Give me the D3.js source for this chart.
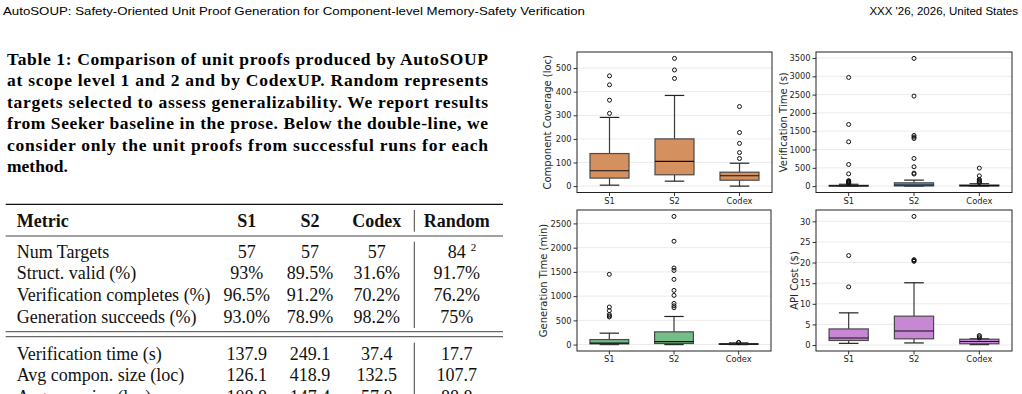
<!DOCTYPE html>
<html>
<head>
<meta charset="utf-8">
<script src="https://cdn.jsdelivr.net/npm/d3@7"></script>
<style>
  html, body { margin: 0; padding: 0; background: #fff; overflow: hidden; }
  svg { display: block; }
</style>
</head>
<body>
<svg id="page" width="1022" height="394"></svg>
<script>
// ---- data ----
const groups = ['S1', 'S2', 'Codex']

// box stats per group: [whisker low, q1, median, q3, whisker high]
const coverageBoxes = [[4, 34, 65, 138, 291], [21, 48, 105, 200, 384], [0, 25, 44, 59, 97]]
const coverageOutliers = [[308, 364, 429, 467], [456, 492, 541], [117, 142, 181, 227, 337]]

const verifTimeBoxes = [[0, 3, 8, 20, 50], [0, 5, 30, 90, 164], [0, 5, 12, 30, 65]]
const verifTimeOutliers = [
    [70, 85, 100, 110, 120, 135, 150, 336, 591, 1211, 1685, 2970],
    [330, 355, 528, 755, 1302, 1340, 1384, 2460, 3490],
    [95, 110, 130, 160, 185, 282, 492]
]

const genTimeBoxes = [[0, 14, 30, 104, 236], [0, 22, 62, 263, 580], [0, 4, 10, 20, 35]]
const genTimeOutliers = [
    [570, 590, 620, 700, 775, 1450],
    [760, 800, 849, 1015, 1118, 1346, 1530, 1580, 2133, 2645],
    [40, 45]
]

const apiCostBoxes = [[0.4, 1.1, 1.7, 3.9, 7.8], [0.5, 1.5, 3.4, 7.0, 15.1], [0.1, 0.3, 0.85, 1.4, 1.5]]
const apiCostOutliers = [[14.1, 21.7], [20.3, 20.5, 20.7, 31.2], [1.7, 2.0, 2.3]]

const coverageTicks = [0, 100, 200, 300, 400, 500]
const verifTimeTicks = [0, 500, 1000, 1500, 2000, 2500, 3000, 3500]
const genTimeTicks = [0, 500, 1000, 1500, 2000, 2500]
const apiCostTicks = [0, 5, 10, 15, 20, 25, 30]

// page text
const headerLeft = 'AutoSOUP: Safety-Oriented Unit Proof Generation for Component-level Memory-Safety Verification'
const headerRight = "XXX '26, 2026, United States"
const captionLines = [
    'Table 1: Comparison of unit proofs produced by AutoSOUP',
    'at scope level 1 and 2 and by CodexUP. Random represents',
    'targets selected to assess generalizability. We report results',
    'from Seeker baseline in the prose. Below the double-line, we',
    'consider only the unit proofs from successful runs for each',
    'method.'
]
const tableHeader = ['Metric', 'S1', 'S2', 'Codex', 'Random']
const tableRows = [
    ['Num Targets', '57', '57', '57', '84'],
    ['Struct. valid (%)', '93%', '89.5%', '31.6%', '91.7%'],
    ['Verification completes (%)', '96.5%', '91.2%', '70.2%', '76.2%'],
    ['Generation succeeds (%)', '93.0%', '78.9%', '98.2%', '75%'],
    ['Verification time (s)', '137.9', '249.1', '37.4', '17.7'],
    ['Avg compon. size (loc)', '126.1', '418.9', '132.5', '107.7'],
    ['Avg cov. size (loc)', '108.8', '147.4', '57.8', '88.8']
]

// ---- page ----
const svg = d3.select('#page')
const serif = "'Liberation Serif', 'DejaVu Serif', serif"
const sans = "'DejaVu Sans', sans-serif"

// running header
svg.append('text')
    .attr('x', 3).attr('y', 15)
    .attr('font-family', "'Liberation Sans', sans-serif")
    .attr('font-size', 11.5)
    .attr('textLength', 582).attr('lengthAdjust', 'spacingAndGlyphs')
    .text(headerLeft)
svg.append('text')
    .attr('x', 1018).attr('y', 15)
    .attr('text-anchor', 'end')
    .attr('font-family', "'Liberation Sans', sans-serif")
    .attr('font-size', 11.5)
    .text(headerRight)

// caption, justified except for the last line
captionLines.forEach((line, i) => {
    const t = svg.append('text')
        .attr('x', 7).attr('y', 64.5 + i * 21.5)
        .attr('font-family', serif)
        .attr('font-weight', 'bold')
        .attr('font-size', 17.5)
        .text(line)
    if (i < captionLines.length - 1) {
        t.attr('textLength', 481).attr('lengthAdjust', 'spacing')
    }
})

// table
const colX = [16.7, 246.7, 310, 376.7, 456.7]
const tableLeft = 5.7, tableRight = 503, sepX = 414.3

const rule = (y, w) => svg.append('line')
    .attr('x1', tableLeft).attr('x2', tableRight)
    .attr('y1', y).attr('y2', y)
    .attr('stroke', '#111').attr('stroke-width', w)
rule(204.3, 1.3)
rule(236, 0.8)
rule(331.7, 0.8)
rule(336.7, 0.8)

;[[210, 231.7], [241.7, 328], [342.7, 394]].forEach(s => {
    svg.append('line')
        .attr('x1', sepX).attr('x2', sepX)
        .attr('y1', s[0]).attr('y2', s[1])
        .attr('stroke', '#111').attr('stroke-width', 0.8)
})

const cellText = (row, y, bold) => {
    row.forEach((v, j) => {
        svg.append('text')
            .attr('x', colX[j]).attr('y', y)
            .attr('text-anchor', j === 0 ? 'start' : 'middle')
            .attr('font-family', serif)
            .attr('font-weight', bold ? 'bold' : 'normal')
            .attr('font-size', 18)
            .attr('fill', '#111')
            .text(v)
    })
}
cellText(tableHeader, 226.5, true)
// the last row sits at the page edge and is cut off there, as in the reference
const rowY = [258, 279, 301, 322.5, 360, 381, 403]
tableRows.forEach((r, i) => cellText(r, rowY[i], false))
// footnote mark on "84"
svg.append('text')
    .attr('x', colX[4] + 14).attr('y', rowY[0] - 7)
    .attr('font-family', serif).attr('font-size', 11)
    .text('2')

// ---- box plots ----
const panels = [
    {label: 'Component Coverage (loc)', boxes: coverageBoxes, outliers: coverageOutliers, ticks: coverageTicks,
        color: '#d4905e', x0: 577, x1: 772, y0: 52, y1: 192.5, labelX: 547.5},
    {label: 'Verification Time (s)', boxes: verifTimeBoxes, outliers: verifTimeOutliers, ticks: verifTimeTicks,
        color: '#5f9ad2', x0: 816, x1: 1012, y0: 52, y1: 192.5, labelX: 783.5},
    {label: 'Generation Time (min)', boxes: genTimeBoxes, outliers: genTimeOutliers, ticks: genTimeTicks,
        color: '#74bd88', x0: 577, x1: 771, y0: 210, y1: 351, labelX: 543.5},
    {label: 'API Cost ($)', boxes: apiCostBoxes, outliers: apiCostOutliers, ticks: apiCostTicks,
        color: '#c887d4', x0: 816, x1: 1012, y0: 210, y1: 351, labelX: 794.5}
]

const drawPanel = (p) => {
    const g = svg.append('g')

    const xScale = d3.scaleBand()
        .domain(groups)
        .range([p.x0, p.x1])

    const allVals = p.boxes.flat().concat(p.outliers.flat())
    const lo = d3.min(allVals), hi = d3.max(allVals)
    const pad = (hi - lo) * 0.05
    const yScale = d3.scaleLinear()
        .domain([lo - pad, hi + pad])
        .range([p.y1, p.y0])

    // horizontal grid
    g.selectAll('.grid')
        .data(p.ticks)
        .enter()
        .append('line')
            .attr('x1', p.x0).attr('x2', p.x1)
            .attr('y1', d => yScale(d)).attr('y2', d => yScale(d))
            .attr('stroke', '#e6e6e6')
            .attr('stroke-width', 0.8)

    const bw = xScale.bandwidth() * 0.6
    const cx = i => xScale(groups[i]) + xScale.bandwidth() / 2

    p.boxes.forEach((b, i) => {
        const c = cx(i)
        const [wLo, q1, med, q3, wHi] = b
        // whiskers
        g.append('line')
            .attr('x1', c).attr('x2', c)
            .attr('y1', yScale(wLo)).attr('y2', yScale(q1))
            .attr('stroke', '#3a3a3a').attr('stroke-width', 1.2)
        g.append('line')
            .attr('x1', c).attr('x2', c)
            .attr('y1', yScale(q3)).attr('y2', yScale(wHi))
            .attr('stroke', '#3a3a3a').attr('stroke-width', 1.2)
        ;[wLo, wHi].forEach(v => {
            g.append('line')
                .attr('x1', c - bw / 4).attr('x2', c + bw / 4)
                .attr('y1', yScale(v)).attr('y2', yScale(v))
                .attr('stroke', '#222').attr('stroke-width', 1.2)
        })
        // box
        g.append('rect')
            .attr('x', c - bw / 2)
            .attr('width', bw)
            .attr('y', yScale(q3))
            .attr('height', Math.max(0.5, yScale(q1) - yScale(q3)))
            .attr('fill', p.color)
            .attr('stroke', '#4a4a4a')
            .attr('stroke-width', 1.2)
        // median
        g.append('line')
            .attr('x1', c - bw / 2).attr('x2', c + bw / 2)
            .attr('y1', yScale(med)).attr('y2', yScale(med))
            .attr('stroke', '#111').attr('stroke-width', 1.2)
        // fliers
        g.selectAll(null)
            .data(p.outliers[i])
            .enter()
            .append('circle')
                .attr('cx', c)
                .attr('cy', d => yScale(d))
                .attr('r', 2)
                .attr('fill', 'none')
                .attr('stroke', '#111')
                .attr('stroke-width', 1)
    })

    // axes
    const yAxis = g.append('g')
        .attr('transform', `translate(${p.x0}, 0)`)
        .call(d3.axisLeft(yScale).tickValues(p.ticks).tickFormat(d3.format('d')).tickSize(3.5).tickPadding(2))
    const xAxis = g.append('g')
        .attr('transform', `translate(0, ${p.y1})`)
        .call(d3.axisBottom(xScale).tickSize(3.5).tickPadding(2))
    ;[yAxis, xAxis].forEach(a => {
        a.select('.domain').remove()
        a.selectAll('.tick line').attr('stroke', '#333')
        a.selectAll('.tick text')
            .attr('font-family', sans)
            .attr('font-size', 8.3)
            .attr('fill', '#262626')
    })

    // frame
    g.append('rect')
        .attr('x', p.x0).attr('y', p.y0)
        .attr('width', p.x1 - p.x0).attr('height', p.y1 - p.y0)
        .attr('fill', 'none')
        .attr('stroke', '#222')
        .attr('stroke-width', 1)

    // y label
    g.append('text')
        .attr('transform', `translate(${p.labelX}, ${(p.y0 + p.y1) / 2}) rotate(-90)`)
        .attr('text-anchor', 'middle')
        .attr('dominant-baseline', 'central')
        .attr('font-family', sans)
        .attr('font-size', 10)
        .attr('fill', '#262626')
        .text(p.label)
}

panels.forEach(drawPanel)
</script>
</body>
</html>
